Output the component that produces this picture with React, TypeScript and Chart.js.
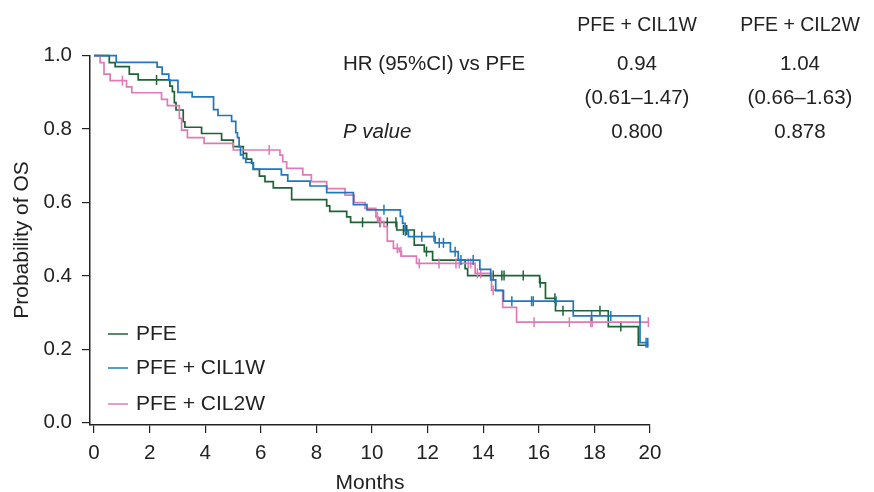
import { useEffect, useRef } from "react";
import { Chart, registerables } from "chart.js";

Chart.register(...registerables);

// ---------- data ----------
const monthTicks = [0, 2, 4, 6, 8, 10, 12, 14, 16, 18, 20];
const probTicks = [0, 0.2, 0.4, 0.6, 0.8, 1.0];

const groupLabels = ["PFE", "PFE + CIL1W", "PFE + CIL2W"];
const groupColors = ["#1d6336", "#1f77c0", "#e07ab6"];

// PFE
const pfeTimes = [0.55, 0.76, 1.27, 1.59, 2.73, 2.82, 2.89, 2.95, 3.21, 3.27, 3.87, 4.59, 5.01, 5.37, 5.49, 5.67, 5.73, 5.95, 6.15, 6.45, 7.11, 8.37, 8.48, 9.09, 9.23, 10.89, 11.52, 11.88, 12.18, 13.35, 13.44, 16.03, 16.24, 16.6, 18.5, 19.58];
const pfeSurv = [0.981, 0.97, 0.95, 0.934, 0.917, 0.902, 0.872, 0.852, 0.82, 0.805, 0.788, 0.77, 0.752, 0.734, 0.718, 0.707, 0.69, 0.672, 0.657, 0.64, 0.608, 0.591, 0.576, 0.561, 0.546, 0.525, 0.484, 0.466, 0.443, 0.42, 0.401, 0.381, 0.339, 0.305, 0.262, 0.211];
const pfeEnd = 19.94;
const pfeCensor = [2.25, 9.66, 10.29, 10.55, 10.86, 11.13, 11.25, 11.96, 14.36, 14.67, 14.75, 15.44, 16.05, 16.58, 16.87, 18.2, 18.95];

// PFE + CIL1W
const w1Times = [0.8, 2.27, 2.45, 2.69, 3.02, 3.53, 4.3, 4.46, 4.95, 5.1, 5.16, 5.22, 5.27, 5.37, 5.46, 5.73, 6.74, 6.97, 7.77, 8.37, 9.33, 9.82, 11.02, 11.1, 11.19, 11.31, 12.27, 12.82, 13.1, 13.88, 14.27, 14.45, 14.73, 17.24, 19.64];
const w1Surv = [0.982, 0.969, 0.95, 0.933, 0.9, 0.888, 0.853, 0.837, 0.821, 0.79, 0.777, 0.752, 0.73, 0.72, 0.709, 0.691, 0.675, 0.658, 0.645, 0.627, 0.594, 0.58, 0.562, 0.543, 0.522, 0.507, 0.49, 0.466, 0.443, 0.418, 0.389, 0.36, 0.331, 0.291, 0.218];
const w1End = 19.94;
const w1Censor = [10.43, 11.2, 11.79, 12.23, 12.42, 12.57, 12.99, 13.2, 13.64, 15.03, 15.74, 15.8, 16.62, 17.9, 18.59, 19.86, 19.92];

// PFE + CIL2W
const w2Times = [0.22, 0.36, 0.58, 1.17, 1.36, 2.43, 2.64, 3.07, 3.15, 3.36, 3.96, 5.01, 6.69, 6.79, 6.93, 7.51, 7.82, 8.37, 9.03, 9.36, 9.75, 10.14, 10.22, 10.43, 10.55, 10.77, 10.98, 11.06, 11.6, 13.71, 14.3, 14.7, 15.2];
const w2Surv = [0.981, 0.95, 0.932, 0.915, 0.899, 0.881, 0.864, 0.829, 0.797, 0.777, 0.761, 0.743, 0.729, 0.711, 0.693, 0.675, 0.657, 0.638, 0.62, 0.6, 0.584, 0.561, 0.548, 0.534, 0.495, 0.475, 0.466, 0.454, 0.434, 0.407, 0.361, 0.314, 0.274];
const w2End = 19.94;
const w2Censor = [1.02, 6.3, 10.19, 10.31, 10.91, 11.04, 11.7, 12.41, 13.02, 13.14, 13.46, 13.55, 13.79, 13.91, 14.36, 15.83, 17.1, 17.87, 17.92, 19.94];

// table text
const colHeaders = ["PFE + CIL1W", "PFE + CIL2W"];
const hrValues = ["0.94", "1.04"];
const ciValues = ["(0.61\u20131.47)", "(0.66\u20131.63)"];
const pValues = ["0.800", "0.878"];

// ---------- helpers ----------
function stepPoints(times: number[], surv: number[], end: number) {
  const pts = [{ x: 0, y: 1 }];
  times.forEach((t, i) => pts.push({ x: t, y: surv[i] }));
  pts.push({ x: end, y: surv[surv.length - 1] });
  return pts;
}
function survAt(times: number[], surv: number[], t: number) {
  let s = 1;
  for (let i = 0; i < times.length; i++) if (times[i] <= t) s = surv[i];
  return s;
}
function censorPoints(times: number[], surv: number[], cens: number[]) {
  return cens.map((c) => ({ x: c, y: survAt(times, surv, c) }));
}

const FONT = "'Liberation Sans', Arial, Helvetica, sans-serif";
const TEXT = "#222222";

const groups = [
  { times: pfeTimes, surv: pfeSurv, end: pfeEnd, cens: pfeCensor },
  { times: w1Times, surv: w1Surv, end: w1End, cens: w1Censor },
  { times: w2Times, surv: w2Surv, end: w2End, cens: w2Censor },
];

const textPlugin = {
  id: "textPlugin",
  afterDraw(chart: any) {
    const ctx = chart.ctx as CanvasRenderingContext2D;
    ctx.save();
    ctx.fillStyle = TEXT;
    ctx.textBaseline = "middle";
    const cx = [637, 800];
    // header
    ctx.textAlign = "center";
    ctx.font = `19.5px ${FONT}`;
    colHeaders.forEach((h, i) => ctx.fillText(h, cx[i], 26));
    ctx.font = `20.5px ${FONT}`;
    hrValues.forEach((h, i) => ctx.fillText(h, cx[i], 64));
    ciValues.forEach((h, i) => ctx.fillText(h, cx[i], 98));
    pValues.forEach((h, i) => ctx.fillText(h, cx[i], 132));
    ctx.textAlign = "left";
    ctx.fillText("HR (95%CI) vs PFE", 343, 64);
    ctx.font = `italic 20.5px ${FONT}`;
    ctx.fillText("P value", 343, 132);

    // axis titles
    ctx.font = `21px ${FONT}`;
    ctx.textAlign = "center";
    ctx.fillText("Months", 370, 483);
    ctx.save();
    ctx.translate(22, 240);
    ctx.rotate(-Math.PI / 2);
    ctx.fillText("Probability of OS", 0, 0);
    ctx.restore();

    // legend
    const ly = [334, 368, 404];
    ctx.font = `21px ${FONT}`;
    ctx.textAlign = "left";
    groupLabels.forEach((lab, i) => {
      ctx.strokeStyle = groupColors[i];
      ctx.lineWidth = 1.5;
      ctx.beginPath();
      ctx.moveTo(108, ly[i]);
      ctx.lineTo(128, ly[i]);
      ctx.stroke();
      ctx.fillStyle = TEXT;
      ctx.fillText(lab, 136, ly[i]);
    });
    ctx.restore();
  },
};

export default function App() {
  const ref = useRef<HTMLCanvasElement | null>(null);
  useEffect(() => {
    if (!ref.current) return;
    const datasets: any[] = [];
    // draw order: CIL1W, CIL2W, PFE on top
    [1, 2, 0].forEach((gi) => {
      const g = groups[gi];
      datasets.push({
        type: "line",
        label: groupLabels[gi],
        data: stepPoints(g.times, g.surv, g.end),
        borderColor: groupColors[gi],
        borderWidth: 1.7,
        stepped: "before",
        pointRadius: 0,
        fill: false,
        clip: false,
      });
      datasets.push({
        type: "scatter",
        label: groupLabels[gi] + " censored",
        data: censorPoints(g.times, g.surv, g.cens),
        pointStyle: "line",
        rotation: 90,
        pointRadius: 5,
        borderColor: groupColors[gi],
        backgroundColor: groupColors[gi],
        pointBorderWidth: 1.5,
        borderWidth: 1.5,
        showLine: false,
        clip: false,
      });
    });

    const chart = new Chart(ref.current, {
      type: "line",
      data: { datasets },
      options: {
        animation: false,
        responsive: false,
        layout: { padding: { left: 0, right: 224, top: 55.7, bottom: 0 } },
        plugins: { legend: { display: false }, tooltip: { enabled: false } },
        scales: {
          x: {
            type: "linear",
            min: -0.144,
            max: 20,
            afterBuildTicks: (s: any) => {
              s.ticks = monthTicks.map((v) => ({ value: v }));
            },
            afterFit: (s: any) => {
              s.height = 67;
            },
            grid: { display: true, drawOnChartArea: false, drawTicks: true, tickLength: 8, color: TEXT, lineWidth: 1.2 },
            border: { display: true, color: TEXT, width: 1.5 },
            ticks: {
              color: TEXT,
              font: { family: FONT, size: 20.5 },
              padding: 8,
              maxRotation: 0,
              autoSkip: false,
              callback: (v: any) => String(v),
            },
          },
          y: {
            type: "linear",
            min: -0.0063,
            max: 1,
            afterBuildTicks: (s: any) => {
              s.ticks = probTicks.map((v) => ({ value: v }));
            },
            afterFit: (s: any) => {
              s.width = 90;
            },
            grid: { display: true, drawOnChartArea: false, drawTicks: true, tickLength: 8, color: TEXT, lineWidth: 1.2 },
            border: { display: true, color: TEXT, width: 1.5 },
            ticks: {
              color: TEXT,
              font: { family: FONT, size: 20.5 },
              padding: 10,
              autoSkip: false,
              callback: (v: any) => Number(v).toFixed(1),
            },
          },
        },
      },
      plugins: [textPlugin],
    });
    return () => chart.destroy();
  }, []);

  return (
    <div style={{ position: "fixed", left: 0, top: 0, width: 874, height: 492, background: "#fff" }}>
      <canvas ref={ref} width={874} height={492} style={{ width: 874, height: 492, display: "block" }} />
    </div>
  );
}
